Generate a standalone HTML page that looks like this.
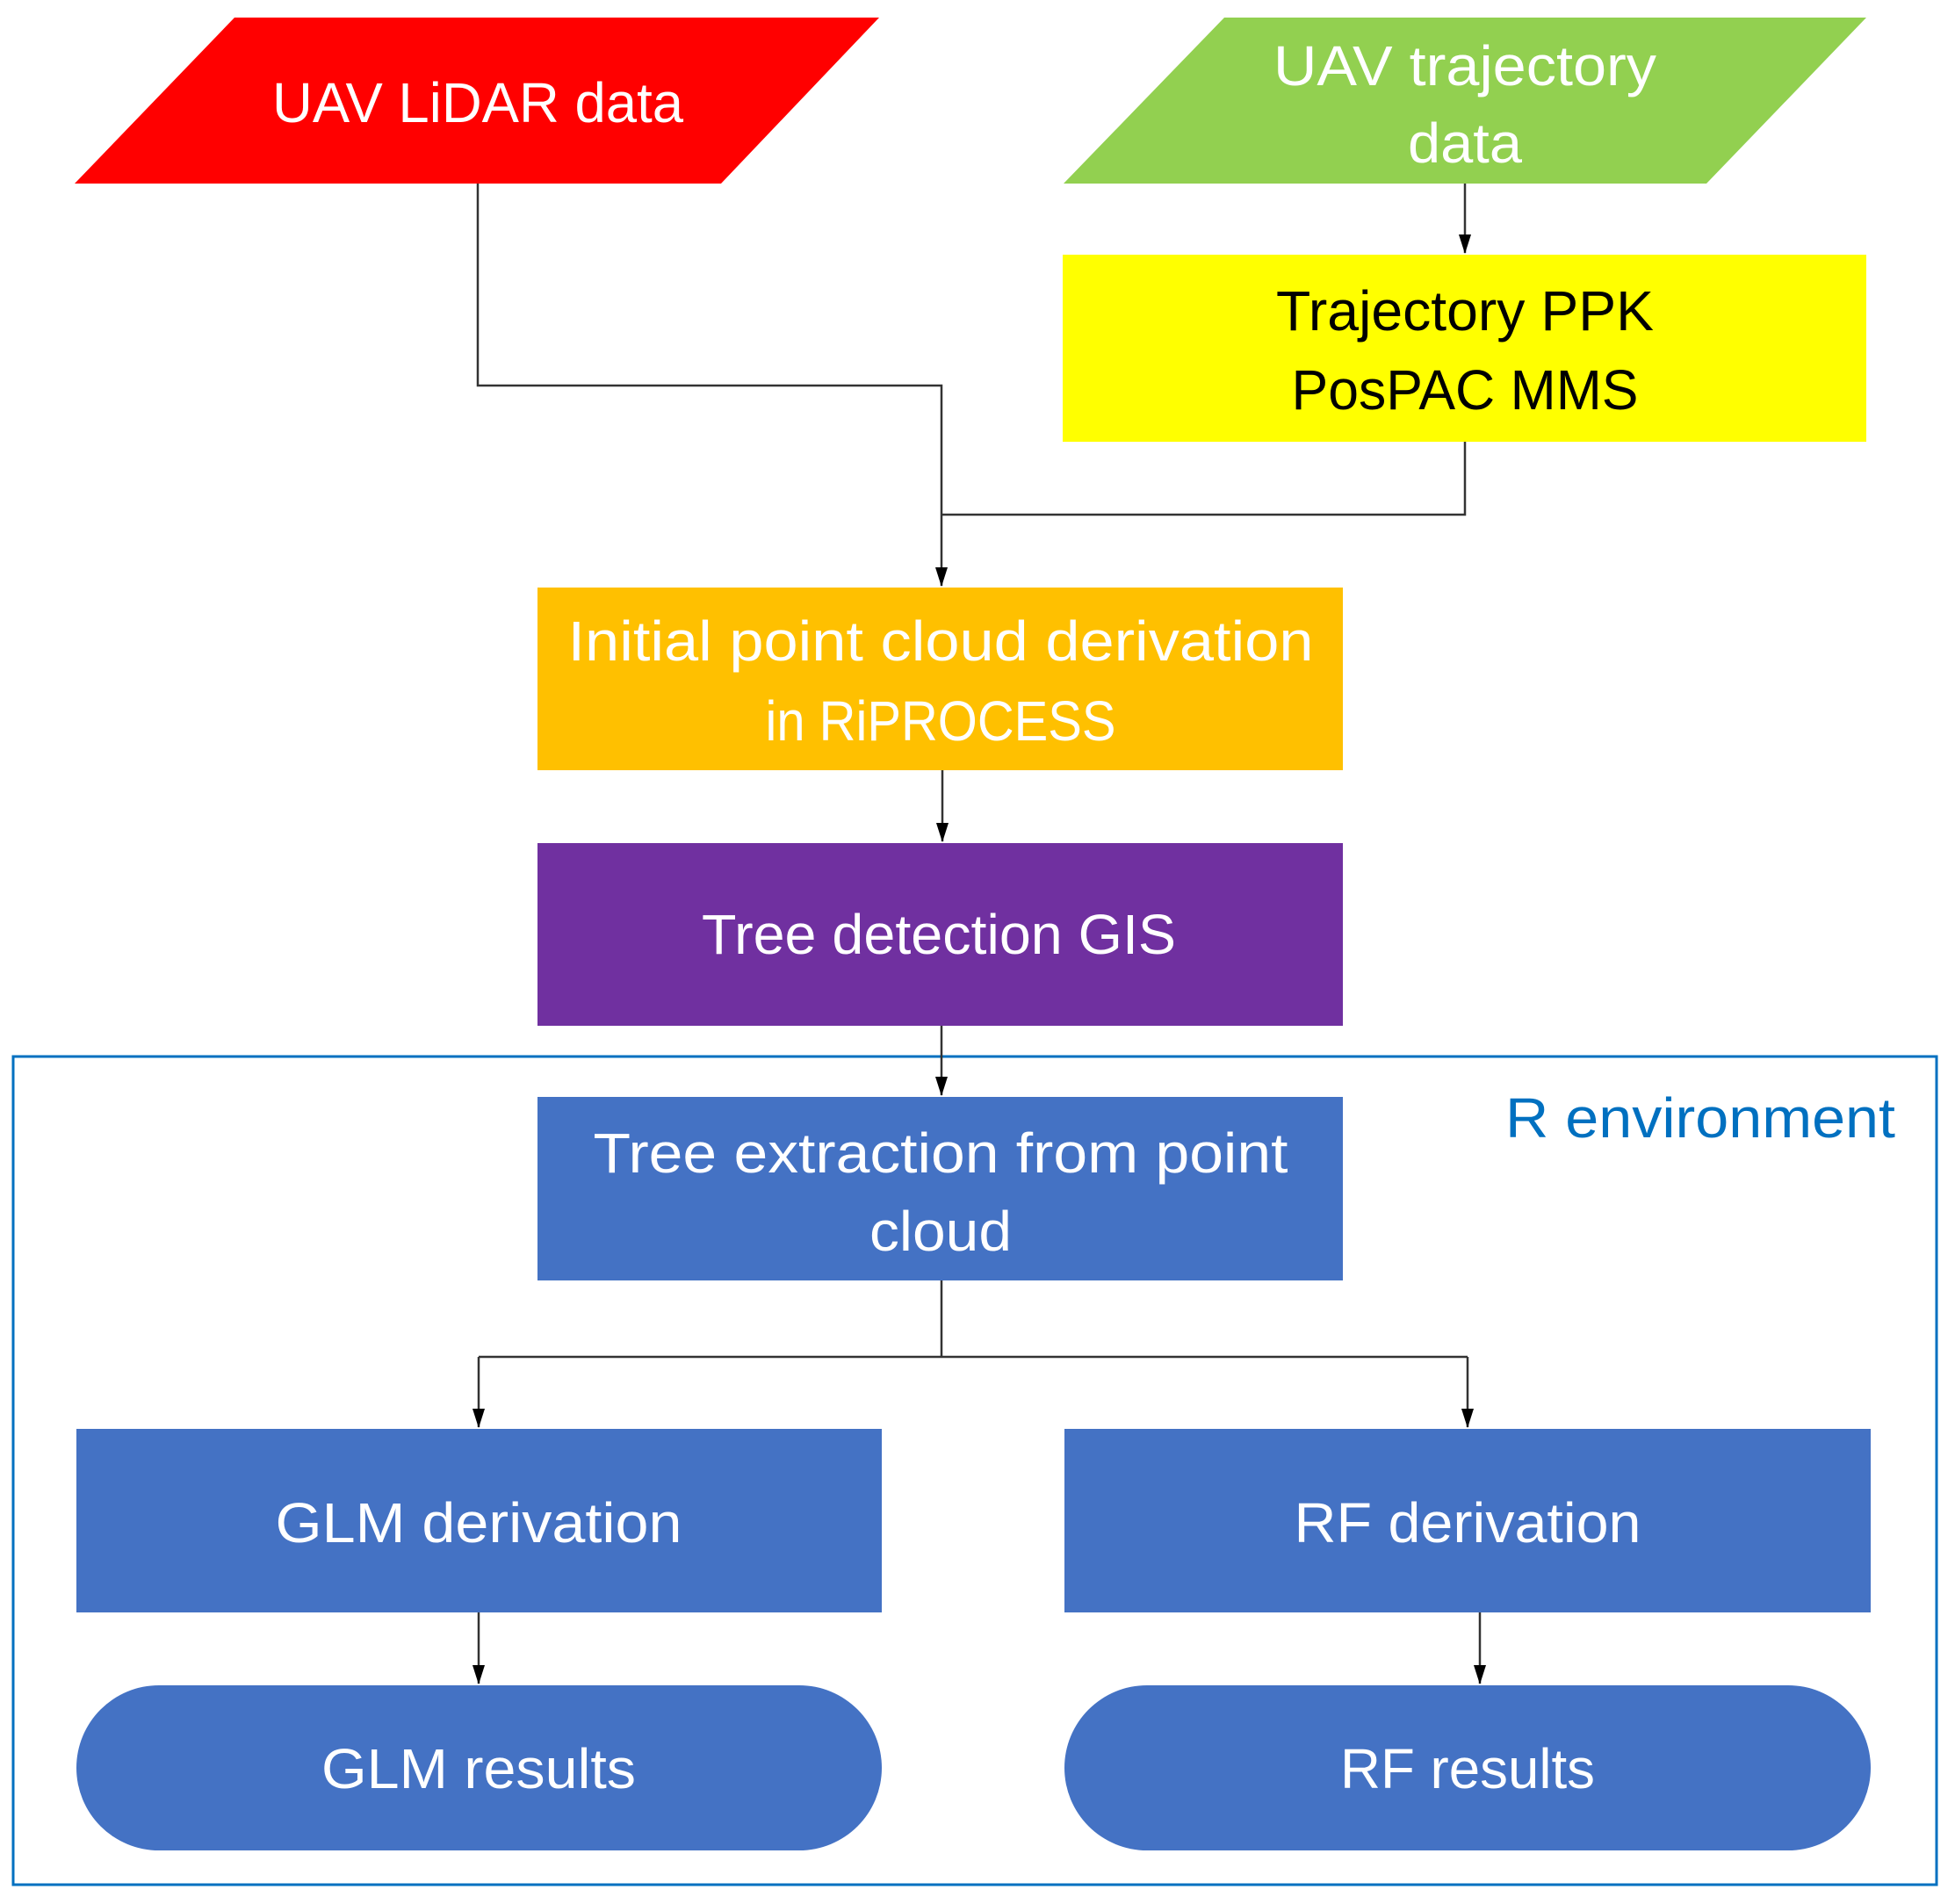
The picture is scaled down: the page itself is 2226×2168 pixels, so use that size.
<!DOCTYPE html>
<html><head><meta charset="utf-8"><style>html,body{margin:0;padding:0;background:#fff}svg{display:block}</style></head>
<body>
<svg width="2226" height="2168" viewBox="0 0 2226 2168" xmlns="http://www.w3.org/2000/svg" font-family="Liberation Sans, sans-serif" font-size="64">
<defs><marker id="a" markerWidth="22" markerHeight="16" refX="21" refY="8" orient="auto" markerUnits="userSpaceOnUse" viewBox="0 0 22 16"><path d="M0,1 L22,8 L0,15 Z" fill="#000"/></marker></defs>
<rect x="15" y="1203" width="2190" height="943" fill="none" stroke="#0070c0" stroke-width="3"/>
<polygon points="267,20 1001,20 821,209 85,209" fill="#ff0000"/>
<polygon points="1394,20 2125,20 1943,209 1211,209" fill="#92d050"/>
<rect x="1210" y="290" width="915" height="213" fill="#ffff00"/>
<rect x="612" y="669" width="917" height="208" fill="#ffc000"/>
<rect x="612" y="960" width="917" height="208" fill="#7030a0"/>
<rect x="612" y="1249" width="917" height="209" fill="#4472c4"/>
<rect x="87" y="1627" width="917" height="209" fill="#4472c4"/>
<rect x="1212" y="1627" width="918" height="209" fill="#4472c4"/>
<rect x="87" y="1919" width="917" height="188" rx="94" fill="#4472c4"/>
<rect x="1212" y="1919" width="918" height="188" rx="94" fill="#4472c4"/>
<g fill="none" stroke="#333" stroke-width="2.5">
<polyline points="544,209 544,439 1072,439 1072,667" marker-end="url(#a)"/>
<polyline points="1668,503 1668,586 1072,586"/>
<line x1="1668" y1="209" x2="1668" y2="288" marker-end="url(#a)"/>
<line x1="1073" y1="877" x2="1073" y2="958" marker-end="url(#a)"/>
<line x1="1072" y1="1168" x2="1072" y2="1247" marker-end="url(#a)"/>
<polyline points="1072,1458 1072,1545"/>
<polyline points="545,1545 1671,1545"/>
<line x1="545" y1="1545" x2="545" y2="1625" marker-end="url(#a)"/>
<line x1="1671" y1="1545" x2="1671" y2="1625" marker-end="url(#a)"/>
<line x1="545" y1="1836" x2="545" y2="1917" marker-end="url(#a)"/>
<line x1="1685" y1="1836" x2="1685" y2="1917" marker-end="url(#a)"/>
</g>
<g fill="#fff" text-anchor="middle">
<text x="544" y="139" textLength="468" lengthAdjust="spacingAndGlyphs">UAV LiDAR data</text>
<text x="1668" y="97" textLength="436" lengthAdjust="spacingAndGlyphs">UAV trajectory</text>
<text x="1668" y="185" textLength="130" lengthAdjust="spacingAndGlyphs">data</text>
<text x="1668" y="376" textLength="430" lengthAdjust="spacingAndGlyphs" fill="#000">Trajectory PPK</text>
<text x="1668" y="466" textLength="395" lengthAdjust="spacingAndGlyphs" fill="#000">PosPAC MMS</text>
<text x="1071" y="752" textLength="849" lengthAdjust="spacingAndGlyphs">Initial point cloud derivation</text>
<text x="1071" y="843" textLength="399" lengthAdjust="spacingAndGlyphs">in RiPROCESS</text>
<text x="1069" y="1086" textLength="540" lengthAdjust="spacingAndGlyphs">Tree detection GIS</text>
<text x="1071" y="1335" textLength="791" lengthAdjust="spacingAndGlyphs">Tree extraction from point</text>
<text x="1071" y="1424" textLength="162" lengthAdjust="spacingAndGlyphs">cloud</text>
<text x="545" y="1756" textLength="463" lengthAdjust="spacingAndGlyphs">GLM derivation</text>
<text x="1671" y="1756" textLength="395" lengthAdjust="spacingAndGlyphs">RF derivation</text>
<text x="545" y="2036" textLength="358" lengthAdjust="spacingAndGlyphs">GLM results</text>
<text x="1671" y="2036" textLength="290" lengthAdjust="spacingAndGlyphs">RF results</text>
</g>
<text x="1714" y="1295" textLength="444" lengthAdjust="spacingAndGlyphs" fill="#0070c0">R environment</text>
</svg>
</body></html>
